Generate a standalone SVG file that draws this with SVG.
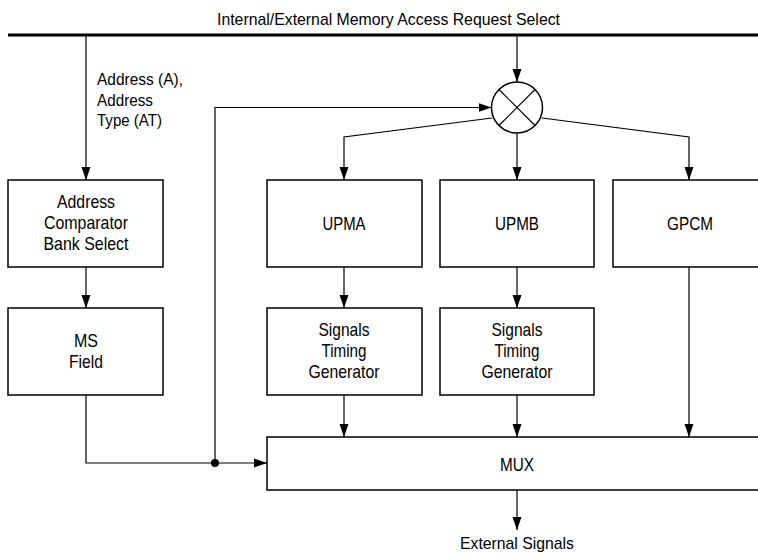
<svg xmlns="http://www.w3.org/2000/svg" width="758" height="555" viewBox="0 0 758 555">
<style>
.box{fill:#fff;stroke:#000;stroke-width:1.5}
.t{font-family:"Liberation Sans",Arial,sans-serif;font-size:19px;fill:#000;text-anchor:middle}
.lbl{font-family:"Liberation Sans",Arial,sans-serif;font-size:17px;fill:#000}
.ln{fill:none;stroke:#000;stroke-width:1.2}
</style>
<defs>
<marker id="ah" markerWidth="13" markerHeight="10" refX="13" refY="5" orient="auto" markerUnits="userSpaceOnUse">
<path d="M0,0.5 L13,5 L0,9.5 Z" fill="#000"/>
</marker>
</defs>
<text class="lbl" x="217" y="25" textLength="343" lengthAdjust="spacingAndGlyphs">Internal/External Memory Access Request Select</text>
<g id="connectors">
<line x1="8" y1="35" x2="758" y2="35" stroke="#000" stroke-width="3"/>
<line class="ln" x1="86" y1="35" x2="86" y2="180" marker-end="url(#ah)"/>
<line class="ln" x1="517" y1="35" x2="517" y2="82" marker-end="url(#ah)"/>
<polyline class="ln" points="215,463 215,107.5 491.5,107.5" marker-end="url(#ah)"/>
<polyline class="ln" points="492,118 344,137 344,180" marker-end="url(#ah)"/>
<line class="ln" x1="517" y1="133" x2="517" y2="180" marker-end="url(#ah)"/>
<polyline class="ln" points="542,118 689,137 689,180" marker-end="url(#ah)"/>
<line class="ln" x1="86" y1="267" x2="86" y2="308" marker-end="url(#ah)"/>
<line class="ln" x1="344" y1="267" x2="344" y2="308" marker-end="url(#ah)"/>
<line class="ln" x1="517" y1="267" x2="517" y2="308" marker-end="url(#ah)"/>
<polyline class="ln" points="86,395 86,463 267,463" marker-end="url(#ah)"/>
<circle cx="215" cy="463" r="4" fill="#000"/>
<line class="ln" x1="344" y1="395" x2="344" y2="437" marker-end="url(#ah)"/>
<line class="ln" x1="517" y1="395" x2="517" y2="437" marker-end="url(#ah)"/>
<line class="ln" x1="689" y1="267" x2="689" y2="437" marker-end="url(#ah)"/>
<line class="ln" x1="517" y1="490" x2="517" y2="530" marker-end="url(#ah)"/>
</g>
<g id="addr-label">
<text class="lbl" x="97" y="85" textLength="86" lengthAdjust="spacingAndGlyphs">Address (A),</text>
<text class="lbl" x="97" y="106" textLength="56" lengthAdjust="spacingAndGlyphs">Address</text>
<text class="lbl" x="97" y="126" textLength="65" lengthAdjust="spacingAndGlyphs">Type (AT)</text>
</g>
<g id="mixer">
<circle cx="517" cy="107.5" r="25.5" fill="#fff" stroke="#000" stroke-width="1.5"/>
<line x1="499" y1="89.5" x2="535" y2="125.5" stroke="#000" stroke-width="1.2"/>
<line x1="535" y1="89.5" x2="499" y2="125.5" stroke="#000" stroke-width="1.2"/>
</g>
<g id="addr-comp">
<rect class="box" x="8" y="180" width="155" height="87"/>
<text class="t" x="86" y="208" textLength="58" lengthAdjust="spacingAndGlyphs">Address</text>
<text class="t" x="86" y="229" textLength="84" lengthAdjust="spacingAndGlyphs">Comparator</text>
<text class="t" x="86" y="250" textLength="85" lengthAdjust="spacingAndGlyphs">Bank Select</text>
</g>
<g id="ms-field">
<rect class="box" x="8" y="308" width="155" height="87"/>
<text class="t" x="86" y="347" textLength="24" lengthAdjust="spacingAndGlyphs">MS</text>
<text class="t" x="86" y="368" textLength="34" lengthAdjust="spacingAndGlyphs">Field</text>
</g>
<g id="upma">
<rect class="box" x="267" y="180" width="155" height="87"/>
<text class="t" x="344" y="230" textLength="43" lengthAdjust="spacingAndGlyphs">UPMA</text>
</g>
<g id="upmb">
<rect class="box" x="440" y="180" width="154" height="87"/>
<text class="t" x="517" y="230" textLength="44" lengthAdjust="spacingAndGlyphs">UPMB</text>
</g>
<g id="gpcm">
<rect class="box" x="613" y="180" width="155" height="87"/>
<text class="t" x="690" y="230" textLength="46" lengthAdjust="spacingAndGlyphs">GPCM</text>
</g>
<g id="stg-a">
<rect class="box" x="267" y="308" width="155" height="87"/>
<text class="t" x="344" y="336" textLength="51" lengthAdjust="spacingAndGlyphs">Signals</text>
<text class="t" x="344" y="357" textLength="45" lengthAdjust="spacingAndGlyphs">Timing</text>
<text class="t" x="344" y="378" textLength="71" lengthAdjust="spacingAndGlyphs">Generator</text>
</g>
<g id="stg-b">
<rect class="box" x="440" y="308" width="154" height="87"/>
<text class="t" x="517" y="336" textLength="51" lengthAdjust="spacingAndGlyphs">Signals</text>
<text class="t" x="517" y="357" textLength="45" lengthAdjust="spacingAndGlyphs">Timing</text>
<text class="t" x="517" y="378" textLength="71" lengthAdjust="spacingAndGlyphs">Generator</text>
</g>
<g id="mux">
<rect class="box" x="267" y="437" width="501" height="53"/>
<text class="t" x="517" y="471" textLength="34" lengthAdjust="spacingAndGlyphs">MUX</text>
</g>
<text class="lbl" x="460" y="549" textLength="114" lengthAdjust="spacingAndGlyphs">External Signals</text>
</svg>
